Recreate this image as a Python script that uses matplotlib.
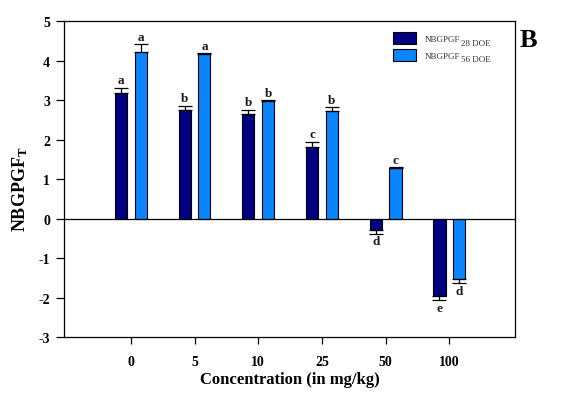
import matplotlib
matplotlib.use("Agg")
import matplotlib.pyplot as plt
import numpy as np

plt.rcParams['font.family'] = ['Liberation Serif', 'DejaVu Serif']
plt.rcParams['mathtext.fontset'] = 'custom'
plt.rcParams['mathtext.rm'] = 'Liberation Serif'
plt.rcParams['mathtext.bf'] = 'Liberation Serif:bold'
plt.rcParams['mathtext.default'] = 'regular'

categories = ['0', '5', '10', '25', '50', '100']
doe28 = [3.17, 2.76, 2.64, 1.80, -0.28, -1.97]
doe28_err = [0.14, 0.09, 0.11, 0.14, 0.10, 0.10]
doe56 = [4.23, 4.17, 2.97, 2.72, 1.27, -1.54]
doe56_err = [0.18, 0.02, 0.02, 0.10, 0.03, 0.10]
letters28 = ['a', 'b', 'b', 'c', 'd', 'e']
letters56 = ['a', 'a', 'b', 'b', 'c', 'd']
yticks = [-3, -2, -1, 0, 1, 2, 3, 4, 5]
series_names = ['NBGPGF', 'NBGPGF']
series_subs = ['28 DOE', '56 DOE']

fig = plt.figure(figsize=(5.64, 4.02), dpi=100)
ax = fig.add_axes([0.1135, 0.159, 0.7995, 0.786])

x = np.arange(len(categories))
w = 0.19
off = 0.155
c28 = '#000080'
c56 = '#0A84FF'

def errs(vals, e):
    lo = [ei if v < 0 else 0 for v, ei in zip(vals, e)]
    hi = [ei if v >= 0 else 0 for v, ei in zip(vals, e)]
    return [lo, hi]

ax.bar(x - off, doe28, w, color=c28, edgecolor='black', linewidth=0.8,
       yerr=errs(doe28, doe28_err), capsize=5, error_kw=dict(elinewidth=0.9, capthick=0.9),
       label=series_names[0], zorder=3)
ax.bar(x + off, doe56, w, color=c56, edgecolor='black', linewidth=0.8,
       yerr=errs(doe56, doe56_err), capsize=5, error_kw=dict(elinewidth=0.9, capthick=0.9),
       label=series_names[1], zorder=3)

def put_letters(xs, vals, es, ls):
    for xi, v, e, l in zip(xs, vals, es, ls):
        if v >= 0:
            ax.text(xi, v + e + 0.04, l, ha='center', va='bottom', fontsize=9.5,
                    fontweight='bold', color='#1a1a1a')
        else:
            ax.text(xi, v - e - 0.04, l, ha='center', va='top', fontsize=9.5,
                    fontweight='bold', color='#1a1a1a')

put_letters(x - off, doe28, doe28_err, letters28)
put_letters(x + off, doe56, doe56_err, letters56)

ax.axhline(0, color='black', linewidth=0.9, zorder=4)
ax.set_xlim(-1.05, 6.03)
ax.set_ylim(-3, 5)
ax.set_yticks(yticks)
ax.set_yticklabels([str(t) for t in yticks], fontweight='bold', fontsize=10)
ax.set_xticks(x)
ax.set_xticklabels(categories, fontweight='bold', fontsize=10)
ax.tick_params(axis='y', direction='out', length=6, width=0.9, pad=4)
ax.tick_params(axis='x', direction='out', length=5, width=0.9, pad=8)
for s in ax.spines.values():
    s.set_linewidth(0.9)

ax.set_xlabel('Concentration (in mg/kg)', fontweight='bold', fontsize=12, labelpad=2)
ax.set_ylabel('NBGPGF$_T$', fontweight='bold', fontsize=13)
ax.yaxis.set_label_coords(-0.075, 0.47)

leg = ax.legend(loc='upper left', bbox_to_anchor=(0.729, 0.965), fontsize=6.5, frameon=False,
                handlelength=2.55, handleheight=1.65, borderpad=0, borderaxespad=0,
                labelspacing=0.55, handletextpad=1.0)
for t in leg.get_texts():
    t.set_color('#333333')

fig.canvas.draw()
inv = fig.transFigure.inverted()
for t, sub in zip(leg.get_texts(), series_subs):
    bb = t.get_window_extent()
    x1, y0 = inv.transform((bb.x1 + 0.5, bb.y0 - 3.5))
    fig.text(x1, y0, sub, fontsize=6.5, color='#333333', ha='left', va='bottom')

fig.text(0.922, 0.883, 'B', fontsize=19, fontweight='bold')

fig.savefig('out.png', dpi=100)
